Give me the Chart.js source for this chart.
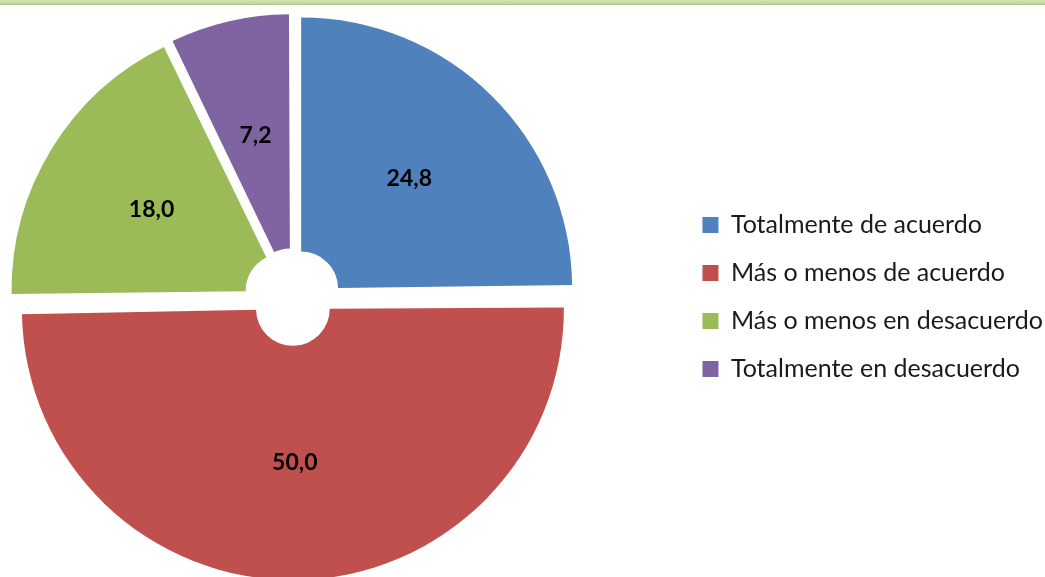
<!DOCTYPE html>
<html>
<head>
<meta charset="utf-8">
<script src="https://cdn.jsdelivr.net/npm/chart.js@4.4.0/dist/chart.umd.min.js"></script>
<style>
  html, body { margin: 0; padding: 0; width: 1045px; height: 577px; overflow: hidden; background: #fff; }
  .topline { position: absolute; left: 0; top: 0; width: 1045px; height: 4px;
    background: linear-gradient(#d5e3b8, #c0d497); border-bottom: 1px solid #b4c98a; }
  .wrap { position: absolute; left: -104px; top: 0; width: 1157px; height: 592px; }
</style>
</head>
<body>
<div class="topline"></div>
<div class="wrap"><canvas id="myChart"></canvas></div>
<script>
const categories = ["Totalmente de acuerdo", "Más o menos de acuerdo", "Más o menos en desacuerdo", "Totalmente en desacuerdo"];
const values = [24.8, 50.0, 18.0, 7.2];
const colors = ["#4f81bd", "#c0504d", "#9bbb59", "#8064a2"];

// every slice pulled out by the same distance (px)
const explode = 12;

// Chart.js moves an arc by offset/4 but also grows small arcs' radii,
// so take that growth back off before drawing
const keepRadius = {
    id: "keepRadius",
    beforeDatasetsDraw(chart) {
        const meta = chart.getDatasetMeta(0);
        const ctrl = meta.controller;
        meta.data.forEach((arc) => {
            const circ = arc.endAngle - arc.startAngle;
            const grow = explode * (1 - Math.sin(Math.min(Math.PI, circ)));
            arc.outerRadius = ctrl.outerRadius - grow;
            arc.innerRadius = ctrl.innerRadius - grow;
        });
    }
};

const sliceLabels = {
    id: "sliceLabels",
    afterDatasetsDraw(chart) {
        const ctx = chart.ctx;
        const meta = chart.getDatasetMeta(0);
        const ctrl = meta.controller;
        ctx.save();
        ctx.font = "bold 23px Lato";
        ctx.fillStyle = "#000";
        ctx.textAlign = "center";
        ctx.textBaseline = "middle";
        meta.data.forEach((arc, i) => {
            const mid = (arc.startAngle + arc.endAngle) / 2;
            const r = (ctrl.innerRadius + ctrl.outerRadius) / 2 + explode;
            const txt = values[i].toFixed(1).replace(".", ",");
            ctx.fillText(txt, arc.x + Math.cos(mid) * r, arc.y + Math.sin(mid) * r);
        });
        ctx.restore();
    }
};

const ctx = document.getElementById("myChart").getContext("2d");
const myChart = new Chart(ctx, {
    type: "doughnut",
    data: {
        labels: categories,
        datasets: [
            {
                data: values,
                backgroundColor: colors,
                borderWidth: 0,
                offset: explode * 4,
                hoverOffset: 0,
            },
        ],
    },
    options: {
        responsive: true,
        maintainAspectRatio: false,
        animation: false,
        cutout: "13.6%",
        layout: { padding: { top: 2, bottom: 0, left: 10, right: 0 } },
        plugins: {
            tooltip: { enabled: false },
            legend: {
                position: "right",
                align: "center",
                labels: {
                    boxWidth: 16,
                    boxHeight: 16,
                    padding: 23,
                    color: "#1a1a1a",
                    font: { family: "Lato", size: 25 },
                },
            },
        },
    },
    plugins: [keepRadius, sliceLabels],
});
</script>
</body>
</html>
